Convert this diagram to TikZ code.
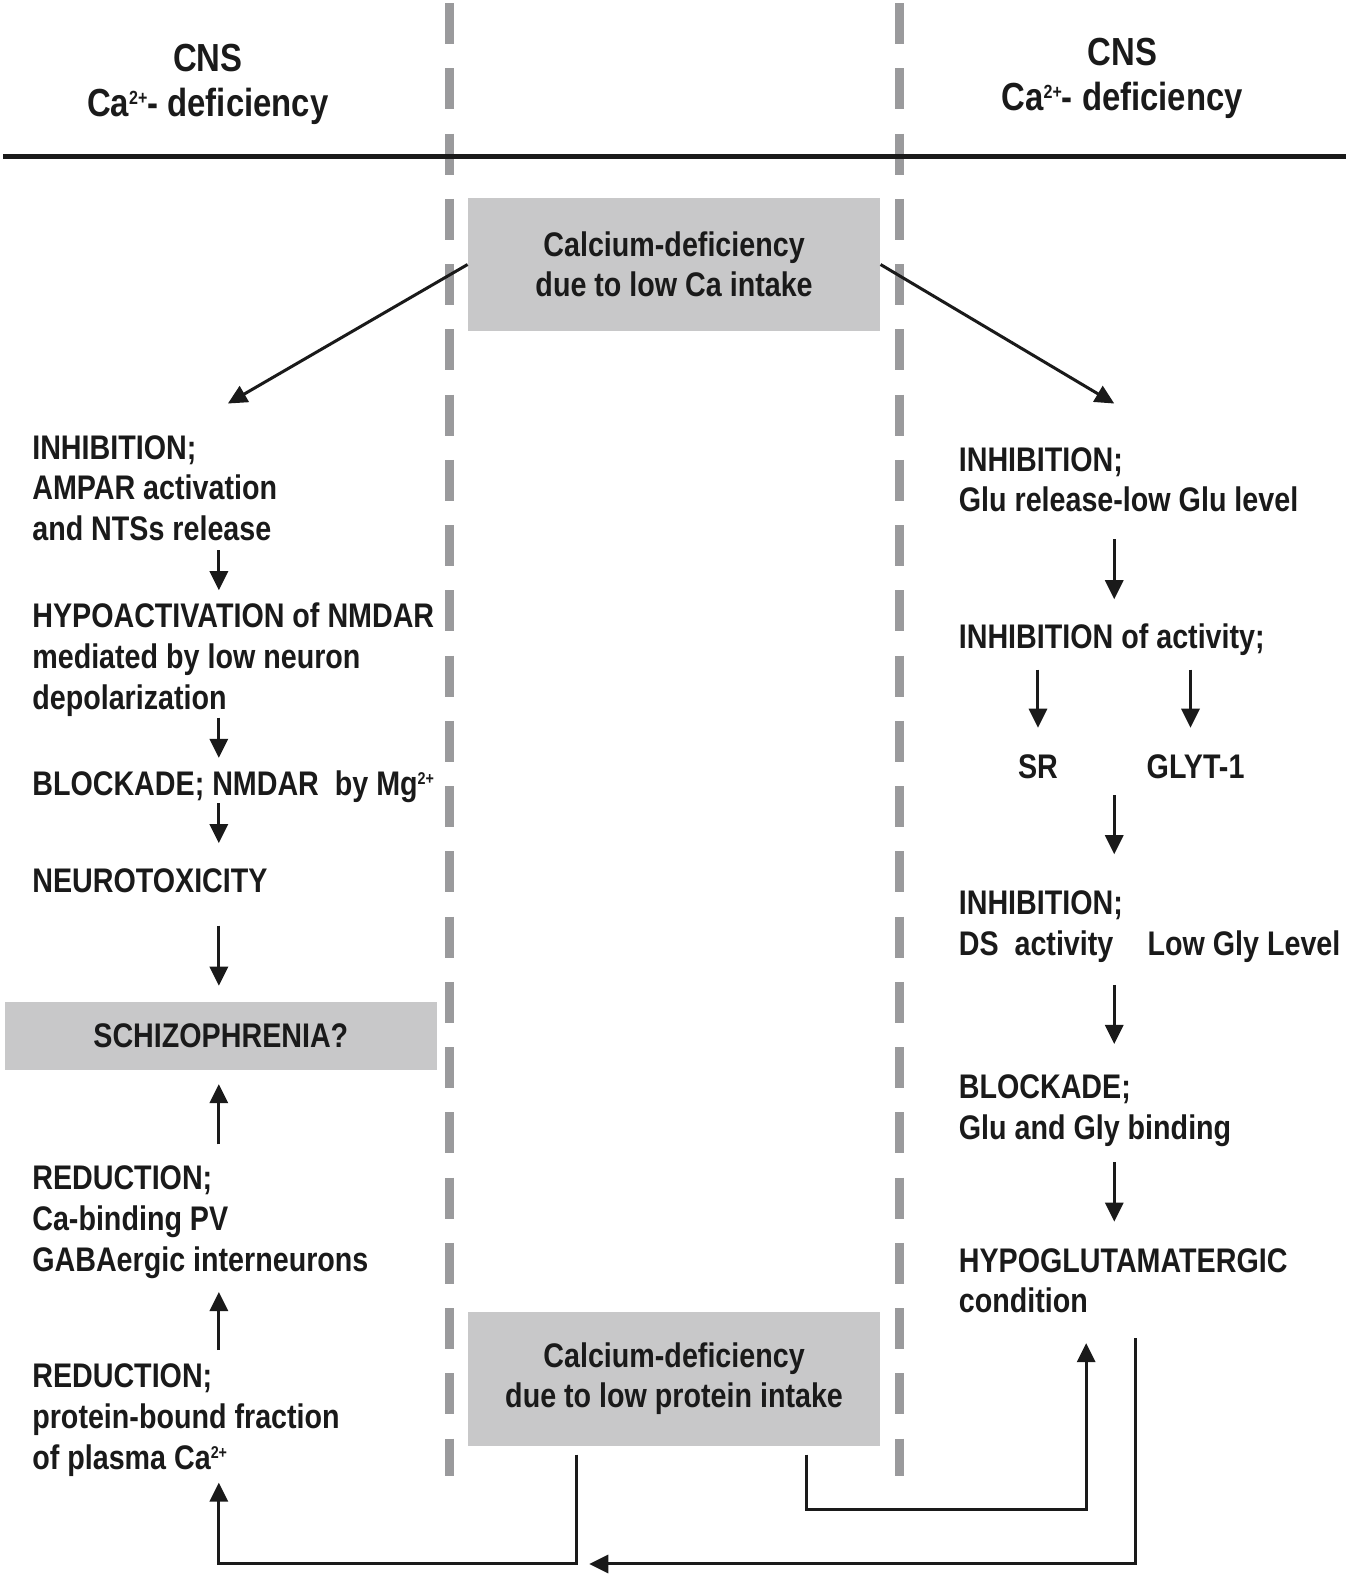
\documentclass[tikz,border=0pt]{standalone}
\usepackage{fontspec}
\setmainfont{Liberation Sans}[FakeStretch=0.84]
\usetikzlibrary{arrows.meta}
\definecolor{boxgray}{HTML}{C8C8C9}
\definecolor{dashgray}{HTML}{9A9A9C}
\definecolor{ink}{HTML}{1A1A1A}
\newcommand\ionch[3][11pt]{\raisebox{#1}{\fontsize{#2}{#2}\selectfont #3}}
\begin{document}
\begin{tikzpicture}[x=1pt,y=-1pt,
  txt/.style={inner sep=0pt, anchor=north west, align=left, font=\fontsize{34}{40.5}\selectfont\bfseries, text=ink},
  head/.style={inner sep=0pt, anchor=north, align=center, font=\fontsize{39}{45}\selectfont\bfseries, text=ink},
  graybox/.style={fill=boxgray, draw=none, inner sep=0pt, align=center, font=\fontsize{34}{40}\selectfont\bfseries, text=ink},
  arr/.style={draw=ink, line width=3pt, -{Triangle[length=19pt,width=18pt]}},
  diag/.style={draw=ink, line width=3pt, -{Triangle[length=19pt,width=18pt]}},
  divider/.style={draw=dashgray, line width=9pt, dash pattern=on 41pt off 24pt},
  rule/.style={draw=ink, line width=5pt}]

\useasboundingbox (0,0) rectangle (1341,1568);

% dividers
\coordinate (d1t) at (448,3); \coordinate (d1b) at (448,1470);
\coordinate (d2t) at (896,3); \coordinate (d2b) at (896,1470);
\draw[divider] (d1t) -- (d1b);
\draw[divider] (d2t) -- (d2b);
\coordinate (hl) at (3,156); \coordinate (hr) at (1341,156);
\draw[rule] (hl) -- (hr);

% headings
\node[head] (hleft) at (207,44) {CNS\\Ca\ionch[12.5pt]{19}{2+}- deficiency};
\node[head] (hright) at (1118,38) {CNS\\Ca\ionch[12.5pt]{19}{2+}- deficiency};

% gray boxes
\node[graybox, minimum width=411pt, minimum height=133pt] (topbox) at (671.5,263.5) {Calcium-deficiency\\due to low Ca intake};
\node[graybox, minimum width=411pt, minimum height=133pt] (botbox) at (671.5,1373.5) {Calcium-deficiency\\due to low protein intake};
\node[graybox, minimum width=430pt, minimum height=68pt] (schizo) at (220,1032) {SCHIZOPHRENIA?};

% left column
\node[txt] (L1) at (32,433.5) {INHIBITION;\\AMPAR activation\\and NTSs release};
\node[txt] (L2) at (32,600.5) {HYPOACTIVATION of NMDAR\\mediated by low neuron\\depolarization};
\node[txt] (L3) at (32,767.5) {BLOCKADE; NMDAR\ \ by Mg\ionch{17}{2+}};
\node[txt] (L4) at (32,865.5) {NEUROTOXICITY};
\node[txt] (L5) at (32,1161.5) {REDUCTION;\\Ca-binding PV\\GABAergic interneurons};
\node[txt] (L6) at (32,1358.5) {REDUCTION;\\protein-bound fraction\\of plasma Ca\ionch{17}{2+}};

% right column
\node[txt] (R1) at (955,445.5) {INHIBITION;\\Glu release-low Glu level};
\node[txt] (R2) at (955,621.5) {INHIBITION of activity;};
\node[txt, anchor=center] (SR) at (1034,764) {SR};
\node[txt, anchor=center] (GLYT) at (1191,764) {GLYT-1};
\node[txt] (R3) at (955,887.5) {INHIBITION;\\DS\ \ activity};
\node[txt] (R3b) at (1143,927.5) {Low Gly Level};
\node[txt] (R4) at (955,1070.5) {BLOCKADE;\\Glu and Gly binding};
\node[txt] (R5) at (955,1243.5) {HYPOGLUTAMATERGIC\\condition};

% diagonal arrows
\coordinate (ltip) at (227,402);
\coordinate (rtip) at (1110,402);
\draw[diag] (topbox.west) -- (ltip);
\draw[diag] (topbox.east) -- (rtip);

% left vertical arrows
\coordinate (a1s) at (218,548); \coordinate (a1e) at (218,588);
\coordinate (a2s) at (218,715); \coordinate (a2e) at (218,755);
\coordinate (a3s) at (218,800); \coordinate (a3e) at (218,840);
\coordinate (a4s) at (218,922); \coordinate (a4e) at (218,982);
\coordinate (a5s) at (218,1140); \coordinate (a5e) at (218,1080);
\coordinate (a6s) at (218,1345); \coordinate (a6e) at (218,1287);
\draw[arr] (a1s) -- (a1e);
\draw[arr] (a2s) -- (a2e);
\draw[arr] (a3s) -- (a3e);
\draw[arr] (a4s) -- (a4e);
\draw[arr] (a5s) -- (a5e);
\draw[arr] (a6s) -- (a6e);

% right vertical arrows
\coordinate (b1s) at (1110,537); \coordinate (b1e) at (1110,597);
\coordinate (b2s) at (1034,667); \coordinate (b2e) at (1034,725);
\coordinate (b3s) at (1186,667); \coordinate (b3e) at (1186,725);
\coordinate (b4s) at (1110,792); \coordinate (b4e) at (1110,851);
\coordinate (b5s) at (1110,981); \coordinate (b5e) at (1110,1040);
\coordinate (b6s) at (1110,1158); \coordinate (b6e) at (1110,1217);
\draw[arr] (b1s) -- (b1e);
\draw[arr] (b2s) -- (b2e);
\draw[arr] (b3s) -- (b3e);
\draw[arr] (b4s) -- (b4e);
\draw[arr] (b5s) -- (b5e);
\draw[arr] (b6s) -- (b6e);

% bottom connectors
\coordinate (c1s) at (574,1449); \coordinate (c1m) at (574,1558); \coordinate (c1e) at (218,1477);
\draw[arr] (c1s) -- (c1m) -| (c1e);
\coordinate (c2s) at (803,1449); \coordinate (c2m) at (803,1504); \coordinate (c2e) at (1082,1338);
\draw[arr] (c2s) -- (c2m) -| (c2e);
\coordinate (c3s) at (1131,1333); \coordinate (c3m) at (1131,1558); \coordinate (c3e) at (587,1558);
\draw[arr] (c3s) -- (c3m) -- (c3e);
\end{tikzpicture}
\end{document}
